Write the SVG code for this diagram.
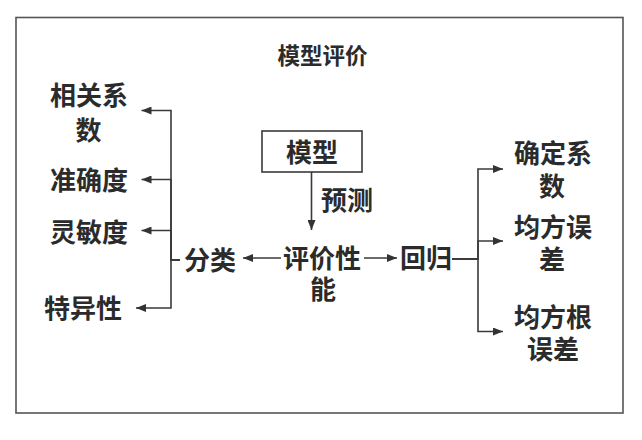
<svg xmlns="http://www.w3.org/2000/svg" width="642" height="440" viewBox="0 0 642 440">
<defs>
<marker id="ah" viewBox="0 0 10 8" refX="10" refY="4" markerWidth="11" markerHeight="8" markerUnits="userSpaceOnUse" orient="auto">
<path d="M0,0 L10,4 L0,8 Z" fill="#333"/>
</marker>
<style>
.t{font-family:"Noto Sans CJK SC","Noto Sans",sans-serif;font-weight:bold;fill:#2b2b2b;text-anchor:middle;font-size:26px}
.title{font-size:22.5px}
.ln{fill:none;stroke:#3a3a3a;stroke-width:1.6}
.box{fill:#fff;stroke:#3a3a3a;stroke-width:1.6}
</style>
</defs>
<rect x="0" y="0" width="642" height="440" fill="#fff"/>
<rect x="16" y="17.5" width="607" height="395.5" fill="#fff" stroke="#555" stroke-width="1.6"/>
<g id="title"><text class="t title" x="322.5" y="64">模型评价</text></g>
<g id="model"><rect class="box" x="262" y="131" width="100" height="41"/><text class="t" x="312" y="162">模型</text></g>
<g id="perf"><text class="t" x="322" y="267.5">评价性</text><text class="t" x="323" y="299">能</text></g>
<g id="cls"><text class="t" x="210" y="270">分类</text></g>
<g id="reg"><text class="t" x="426" y="267.5">回归</text></g>
<g id="corr"><text class="t" x="89" y="105">相关系</text><text class="t" x="88.5" y="140">数</text></g>
<g id="acc"><text class="t" x="89" y="190">准确度</text></g>
<g id="sens"><text class="t" x="89" y="242">灵敏度</text></g>
<g id="spec"><text class="t" x="83" y="318">特异性</text></g>
<g id="r2"><text class="t" x="553" y="163">确定系</text><text class="t" x="552" y="196">数</text></g>
<g id="mse"><text class="t" x="553" y="237">均方误</text><text class="t" x="552" y="269">差</text></g>
<g id="rmse"><text class="t" x="553" y="327">均方根</text><text class="t" x="553" y="359">误差</text></g>
<g id="predict-label"><text class="t" x="347" y="210">预测</text></g>
<g id="connectors">
<path class="ln" d="M311.5,172 V230" marker-end="url(#ah)"/>
<path class="ln" d="M281,258 H243" marker-end="url(#ah)"/>
<path class="ln" d="M364,258 H397" marker-end="url(#ah)"/>
<path class="ln" d="M180,260 H171 V110.5 H141.5" marker-end="url(#ah)"/>
<path class="ln" d="M180,260 H171 V179.5 H141.5" marker-end="url(#ah)"/>
<path class="ln" d="M180,260 H171 V230.5 H141.5" marker-end="url(#ah)"/>
<path class="ln" d="M180,260 H171 V308 H136" marker-end="url(#ah)"/>
<path class="ln" d="M452,259 H478 V169 H503" marker-end="url(#ah)"/>
<path class="ln" d="M452,259 H478 V241 H503" marker-end="url(#ah)"/>
<path class="ln" d="M452,259 H478 V331.5 H503" marker-end="url(#ah)"/>
</g>
</svg>
